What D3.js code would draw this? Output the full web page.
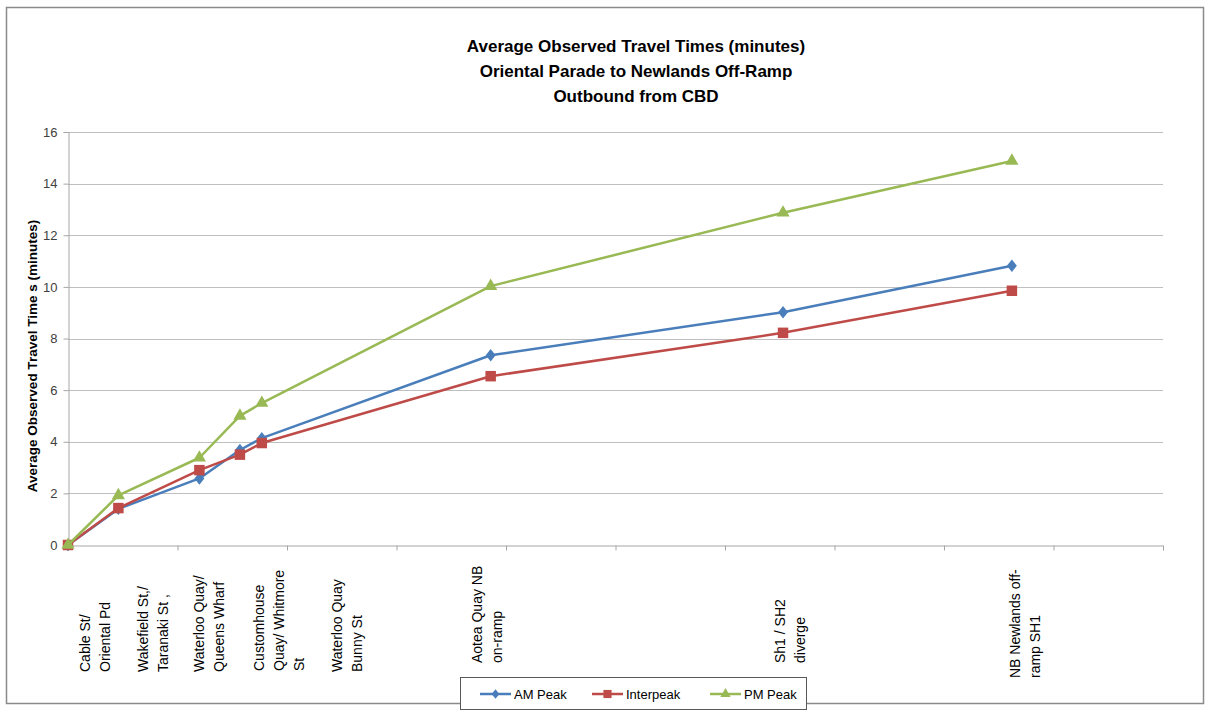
<!DOCTYPE html>
<html>
<head>
<meta charset="utf-8">
<script src="https://cdn.jsdelivr.net/npm/d3@7"></script>
<style>
  html, body { margin: 0; padding: 0; background: #fff; }
  svg { display: block; }
</style>
</head>
<body>
<svg id="chart" width="1210" height="713"></svg>
<script>
// ---------------- data ----------------
const titleLines = [
  "Average Observed Travel Times (minutes)",
  "Oriental Parade  to Newlands Off-Ramp",
  "Outbound from CBD"
];
const yAxisTitle = "Average Observed Travel Time s (minutes)";

// position of each timing point along the route (x-axis units)
const pointPositions = [0, 0.46, 1.2, 1.57, 1.77, 3.86, 6.53, 8.62];

const amPeak    = [0, 1.40, 2.58, 3.68, 4.14, 7.35, 9.02, 10.82];
const interpeak = [0, 1.43, 2.90, 3.50, 3.95, 6.54, 8.22, 9.85];
const pmPeak    = [0, 1.92, 3.38, 5.00, 5.50, 10.03, 12.87, 14.88];

const seriesNames = ["AM Peak", "Interpeak", "PM Peak"];

// category labels (multi-line) and where they sit along the x-axis (x-axis units)
const categoryLabels = [
  ["Cable St/", "Oriental Pd"],
  ["Wakefield  St,/", "Taranaki St ,"],
  ["Waterloo Quay/", "Queens Wharf"],
  ["Customhouse", "Quay/ Whitmore", "St"],
  ["Waterloo Quay", "Bunny St"],
  ["Aotea Quay NB", "on-ramp"],
  ["Sh1 / SH2", "diverge"],
  ["NB Newlands off-", "ramp SH1"]
];
const categoryLabelPos = [0.25, 0.78, 1.29, 1.93, 2.55, 3.83, 6.59, 8.74];

const yTicks = [0, 2, 4, 6, 8, 10, 12, 14, 16];
const xTicks = [0, 1, 2, 3, 4, 5, 6, 7, 8, 9, 10];

// ---------------- layout / style ----------------
const W = 1210, H = 713;
const plot = { left: 68, right: 1163, top: 132, bottom: 545 };
const colors = { "AM Peak": "#4A7EBB", "Interpeak": "#BE4B48", "PM Peak": "#98B954" };
const labelBottoms = [672, 672, 672, 671, 672, 663, 663, 678];
const fontFam = "'Liberation Sans', Arial, sans-serif";

const svg = d3.select("#chart");

// outer chart frame
svg.append("rect")
  .attr("x", 6.5).attr("y", 7.5)
  .attr("width", 1197).attr("height", 696)
  .attr("fill", "#fff")
  .attr("stroke", "#8a8a8a").attr("stroke-width", 1.5);

const x = d3.scaleLinear().domain([0, 10]).range([plot.left, plot.right]);
const y = d3.scaleLinear().domain([0, 16]).range([plot.bottom, plot.top]);

// title
svg.append("g").selectAll("text")
  .data(titleLines).join("text")
  .attr("x", 636)
  .attr("y", (d, i) => 52 + i * 25)
  .attr("text-anchor", "middle")
  .attr("font-family", fontFam)
  .attr("font-weight", "bold")
  .attr("font-size", 17)
  .attr("fill", "#000")
  .text(d => d);

// gridlines
svg.append("g").selectAll("line")
  .data(yTicks.filter(t => t > 0)).join("line")
  .attr("x1", plot.left).attr("x2", plot.right)
  .attr("y1", d => Math.round(y(d)) + 0.5).attr("y2", d => Math.round(y(d)) + 0.5)
  .attr("stroke", "#bfbfbf").attr("stroke-width", 1);

// y axis
const yAxis = svg.append("g")
  .attr("transform", `translate(${plot.left + 0.5},0)`)
  .call(d3.axisLeft(y).tickValues(yTicks).tickSize(5).tickPadding(6).tickFormat(d3.format("d")));
yAxis.select(".domain").attr("stroke", "#a6a6a6");
yAxis.selectAll(".tick line").attr("stroke", "#a6a6a6");
yAxis.selectAll("text")
  .attr("font-family", fontFam).attr("font-size", 13).attr("fill", "#404040");

// x axis
const xAxis = svg.append("g")
  .attr("transform", `translate(0,${Math.round(plot.bottom) + 0.5})`)
  .call(d3.axisBottom(x).tickValues(xTicks).tickSize(5).tickFormat(""));
xAxis.select(".domain").attr("stroke", "#a6a6a6");
xAxis.selectAll(".tick line").attr("stroke", "#a6a6a6");

// y axis title
svg.append("text")
  .attr("transform", `translate(37,356) rotate(-90)`)
  .attr("text-anchor", "middle")
  .attr("font-family", fontFam)
  .attr("font-weight", "bold")
  .attr("font-size", 13.5)
  .attr("fill", "#000")
  .text(yAxisTitle);

// category labels (rotated)
const lblG = svg.append("g");
categoryLabels.forEach((lines, i) => {
  const cx = x(categoryLabelPos[i]);
  const n = lines.length;
  const spacing = 20;
  lines.forEach((ln, j) => {
    const lx = cx + (j - (n - 1) / 2) * spacing + 5;
    lblG.append("text")
      .attr("transform", `translate(${lx},${labelBottoms[i]}) rotate(-90)`)
      .attr("text-anchor", "start")
      .attr("font-family", fontFam)
      .attr("font-size", 14)
      .attr("fill", "#000")
      .text(ln);
  });
});

// symbols
const diamondSym = {
  draw(ctx, size) {
    const h = Math.sqrt(size) * 0.78, w = Math.sqrt(size) * 0.62;
    ctx.moveTo(0, -h); ctx.lineTo(w, 0); ctx.lineTo(0, h); ctx.lineTo(-w, 0); ctx.closePath();
  }
};
const symbolTypes = { "AM Peak": diamondSym, "Interpeak": d3.symbolSquare, "PM Peak": d3.symbolTriangle };
const symbolSizes = { "AM Peak": 64, "Interpeak": 110, "PM Peak": 75 };

const seriesData = [amPeak, interpeak, pmPeak].map((vals, k) => ({
  name: seriesNames[k],
  values: vals.map((v, i) => ({ x: pointPositions[i], y: v }))
}));

const line = d3.line().x(d => x(d.x)).y(d => y(d.y));

const sG = svg.append("g").selectAll("g").data(seriesData).join("g");
sG.append("path")
  .attr("d", d => line(d.values))
  .attr("fill", "none")
  .attr("stroke", d => colors[d.name])
  .attr("stroke-width", 2.5)
  .attr("stroke-linejoin", "round");
sG.each(function (s) {
  d3.select(this).selectAll("path.m").data(s.values).join("path")
    .attr("class", "m")
    .attr("transform", d => `translate(${x(d.x)},${y(d.y)})`)
    .attr("d", d3.symbol().type(symbolTypes[s.name]).size(symbolSizes[s.name]))
    .attr("fill", colors[s.name]);
});

// legend
const lg = svg.append("g");
lg.append("rect")
  .attr("x", 460.5).attr("y", 677.5).attr("width", 346).attr("height", 32)
  .attr("fill", "#fff").attr("stroke", "#595959").attr("stroke-width", 1);
const legendX = [480, 592, 710];
seriesNames.forEach((nm, i) => {
  const lx = legendX[i], ly = 694;
  lg.append("line")
    .attr("x1", lx).attr("x2", lx + 31).attr("y1", ly).attr("y2", ly)
    .attr("stroke", colors[nm]).attr("stroke-width", 2.5);
  lg.append("path")
    .attr("transform", `translate(${lx + 15.5},${ly})`)
    .attr("d", d3.symbol().type(symbolTypes[nm]).size(symbolSizes[nm] * 0.6))
    .attr("fill", colors[nm]);
  lg.append("text")
    .attr("x", lx + 34).attr("y", ly + 4.5)
    .attr("font-family", fontFam).attr("font-size", 13).attr("fill", "#000")
    .text(nm);
});
</script>
</body>
</html>
